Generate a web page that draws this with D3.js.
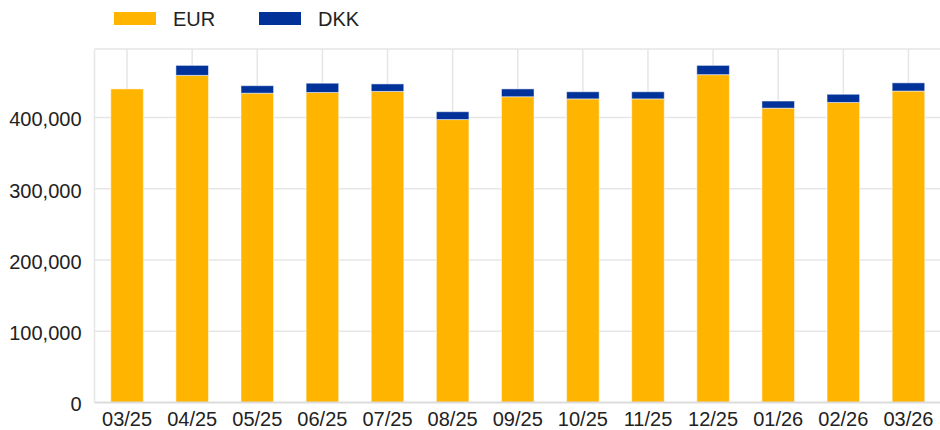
<!DOCTYPE html>
<html>
<head>
<meta charset="utf-8">
<script src="https://cdn.jsdelivr.net/npm/d3@7"></script>
<style>
  body { margin: 0; background: #fff; }
  svg { display: block; font-family: "Liberation Sans", Arial, sans-serif; }
</style>
</head>
<body>
<script>
// chart data
var months = ["03/25", "04/25", "05/25", "06/25", "07/25", "08/25", "09/25",
              "10/25", "11/25", "12/25", "01/26", "02/26", "03/26"];
var eur = [440000, 459000, 434000, 435000, 436500, 397000, 429000,
           426000, 426000, 460000, 413000, 421000, 437000];
var dkk = [0, 14000, 10500, 13000, 10500, 11000, 11000,
           10000, 10000, 13000, 10000, 11500, 11500];
var yTicks = [0, 100000, 200000, 300000, 400000];
var seriesNames = ["EUR", "DKK"];
var colours = ["#FFB400", "#003299"];

var width = 940, height = 430;
var plotLeft = 94.5, plotRight = 941, plotTop = 49, plotBottom = 402.5;

var svg = d3.select("body").append("svg")
    .attr("width", width)
    .attr("height", height);

var x = d3.scaleBand()
    .domain(months)
    .range([plotLeft, plotRight])
    .paddingInner(0.5)
    .paddingOuter(0.25);

var y = d3.scaleLinear()
    .domain([0, 496000])
    .range([plotBottom, plotTop]);

// grid
var grid = svg.append("g");
grid.selectAll(".hgrid").data(yTicks.slice(1).concat([496000])).enter()
    .append("line")
    .attr("x1", plotLeft).attr("x2", plotRight)
    .attr("y1", function (d) { return y(d); })
    .attr("y2", function (d) { return y(d); })
    .attr("stroke", "#e6e6e6")
    .attr("stroke-width", 1.5);

grid.selectAll(".vgrid").data(months).enter()
    .append("line")
    .attr("x1", function (d) { return x(d) + x.bandwidth() / 2; })
    .attr("x2", function (d) { return x(d) + x.bandwidth() / 2; })
    .attr("y1", plotTop).attr("y2", plotBottom)
    .attr("stroke", "#e6e6e6")
    .attr("stroke-width", 1.5);

grid.append("line")
    .attr("x1", plotLeft).attr("x2", plotLeft)
    .attr("y1", plotTop).attr("y2", plotBottom)
    .attr("stroke", "#e6e6e6")
    .attr("stroke-width", 1.5);

// stacked bars
var rows = months.map(function (m, i) {
    return { month: m, EUR: eur[i], DKK: dkk[i] };
});
var stacked = d3.stack().keys(seriesNames)(rows);

svg.append("g").selectAll("g").data(stacked).enter()
    .append("g")
    .attr("fill", function (d, i) { return colours[i]; })
    .selectAll("rect").data(function (d) { return d.filter(function (p) { return p[1] - p[0] > 0; }); }).enter()
    .append("rect")
    .attr("x", function (d) { return x(d.data.month); })
    .attr("width", x.bandwidth())
    .attr("y", function (d) { return y(d[1]); })
    .attr("height", function (d) { return y(d[0]) - y(d[1]); })
    .attr("stroke", "#fff")
    .attr("stroke-opacity", 0.5)
    .attr("stroke-width", 1);

// baseline
svg.append("line")
    .attr("x1", plotLeft).attr("x2", plotRight)
    .attr("y1", plotBottom).attr("y2", plotBottom)
    .attr("stroke", "#dcdcdc")
    .attr("stroke-width", 2);

// axes
var yAxis = d3.axisLeft(y)
    .tickValues(yTicks)
    .tickSize(0)
    .tickPadding(13)
    .tickFormat(d3.format(","));
var gy = svg.append("g")
    .attr("transform", "translate(" + plotLeft + ",0)")
    .call(yAxis);
gy.select(".domain").remove();
gy.selectAll("text")
    .attr("dy", "0.42em")
    .attr("font-size", 20)
    .attr("fill", "#222")
    .attr("font-family", "Liberation Sans, Arial, sans-serif");

var xAxis = d3.axisBottom(x).tickSize(0).tickPadding(9);
var gx = svg.append("g")
    .attr("transform", "translate(0," + plotBottom + ")")
    .call(xAxis);
gx.select(".domain").remove();
gx.selectAll("text")
    .attr("font-size", 20)
    .attr("fill", "#222")
    .attr("font-family", "Liberation Sans, Arial, sans-serif");

// legend
var legendX = [114, 259];
var legend = svg.append("g").selectAll("g").data(seriesNames).enter()
    .append("g")
    .attr("transform", function (d, i) { return "translate(" + legendX[i] + ",0)"; });
legend.append("rect")
    .attr("x", 0).attr("y", 12)
    .attr("width", 42).attr("height", 13)
    .attr("fill", function (d, i) { return colours[i]; });
legend.append("text")
    .attr("x", 59).attr("y", 26)
    .attr("font-size", 20)
    .attr("fill", "#222")
    .text(function (d) { return d; });
</script>
</body>
</html>
